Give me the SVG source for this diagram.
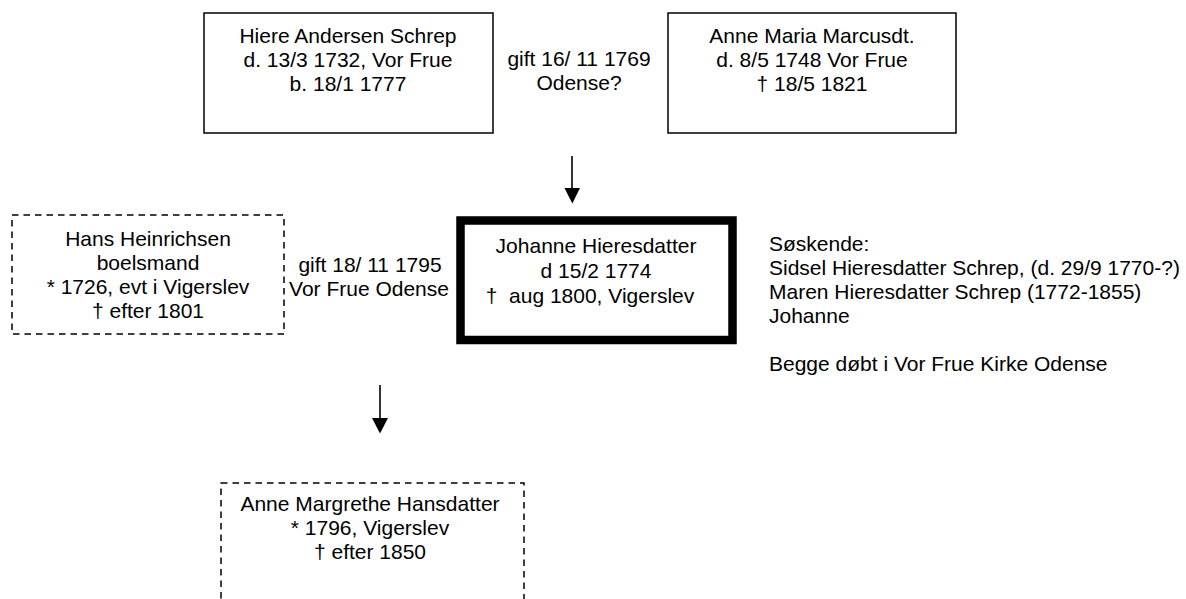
<svg xmlns="http://www.w3.org/2000/svg" width="1186" height="599" viewBox="0 0 1186 599">
<style>
text{font-family:"Liberation Sans",Arial,sans-serif;font-size:21px;fill:#000}
.c{text-anchor:middle}
.box{fill:#fff;stroke:#000;stroke-width:1.5}
.dash{fill:#fff;stroke:#000;stroke-width:1.5;stroke-dasharray:6.5 5}
.thick{fill:#fff;stroke:#000;stroke-width:8.5}
.conn{stroke:#000;stroke-width:1.6;fill:none}
</style>
<defs>
<marker id="ah" markerUnits="userSpaceOnUse" markerWidth="16" markerHeight="16" viewBox="0 0 16 16" refX="8" refY="15" orient="auto-start-reverse">
<path d="M0,0 L16,0 L8,15 Z" fill="#000" transform="rotate(-90 8 8)"/>
</marker>
</defs>
<rect width="1186" height="599" fill="#fff"/>
<g id="connectors">
<line class="conn" x1="572" y1="156" x2="572" y2="189"/>
<polygon points="564.5,188 580,188 572.3,203.5" fill="#000"/>
<line class="conn" x1="380" y1="385" x2="380" y2="419"/>
<polygon points="372,418 388,418 380,433.5" fill="#000"/>
</g>
<g id="node-hiere">
<rect class="box" x="204" y="13" width="289" height="120"/>
<text class="c" x="348" y="43">Hiere Andersen Schrep</text>
<text class="c" x="348" y="67">d. 13/3 1732, Vor Frue</text>
<text class="c" x="348" y="91">b. 18/1 1777</text>
</g>
<g id="label-gift1">
<text class="c" x="579" y="66">gift 16/ 11 1769</text>
<text class="c" x="579" y="90">Odense?</text>
</g>
<g id="node-anne-maria">
<rect class="box" x="668" y="13" width="288" height="120"/>
<text class="c" x="812" y="43">Anne Maria Marcusdt.</text>
<text class="c" x="812" y="67">d. 8/5 1748 Vor Frue</text>
<text class="c" x="812" y="91">† 18/5 1821</text>
</g>
<g id="node-hans">
<rect class="dash" x="12" y="215" width="272" height="119"/>
<text class="c" x="148" y="246">Hans Heinrichsen</text>
<text class="c" x="148" y="270">boelsmand</text>
<text class="c" x="148" y="294">* 1726, evt i Vigerslev</text>
<text class="c" x="148" y="318">† efter 1801</text>
</g>
<g id="label-gift2">
<text class="c" x="370" y="272">gift 18/ 11 1795</text>
<text class="c" x="369" y="296">Vor Frue Odense</text>
</g>
<g id="node-johanne">
<rect class="thick" x="460.5" y="220.5" width="272" height="119.5"/>
<text class="c" x="596" y="253">Johanne Hieresdatter</text>
<text class="c" x="596" y="278">d 15/2 1774</text>
<text class="c" x="590" y="303" xml:space="preserve">†  aug 1800, Vigerslev</text>
</g>
<g id="siblings">
<text x="769" y="251">Søskende:</text>
<text x="769" y="275">Sidsel Hieresdatter Schrep, (d. 29/9 1770-?)</text>
<text x="769" y="299">Maren Hieresdatter Schrep (1772-1855)</text>
<text x="769" y="323">Johanne</text>
<text x="769" y="371">Begge døbt i Vor Frue Kirke Odense</text>
</g>
<g id="node-anne-margrethe">
<rect class="dash" x="221" y="483" width="303" height="140"/>
<text class="c" x="370" y="511">Anne Margrethe Hansdatter</text>
<text class="c" x="370" y="535">* 1796, Vigerslev</text>
<text class="c" x="370" y="559">† efter 1850</text>
</g>
</svg>
